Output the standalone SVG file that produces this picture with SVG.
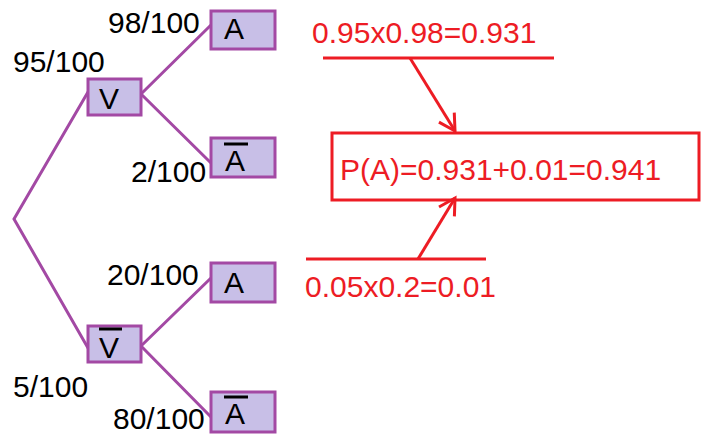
<svg xmlns="http://www.w3.org/2000/svg" width="703" height="434" viewBox="0 0 703 434">
  <style>
    .branch { stroke: #a349a4; stroke-width: 3; fill: none; stroke-linecap: round; }
    .node rect { fill: #c8bfe7; stroke: #a349a4; stroke-width: 3; }
    .lbl { font-family: "Liberation Sans", Arial, sans-serif; font-size: 30px; fill: #000; }
    .bar { stroke: #000; stroke-width: 3; }
    .red { font-family: "Liberation Sans", Arial, sans-serif; font-size: 30px; fill: #ed1c24; }
    .redline { stroke: #ed1c24; stroke-width: 3; fill: none; }
  </style>
  <defs>
    <marker id="openArrow" markerUnits="userSpaceOnUse" markerWidth="40" markerHeight="40" viewBox="-20 -20 40 40" refX="0" refY="0" orient="auto">
      <path d="M-16,-9 L0,0 L-16,9" fill="none" stroke="#ed1c24" stroke-width="3"/>
    </marker>
  </defs>
  <rect width="703" height="434" fill="#fff"/>

  <!-- tree branches -->
  <g id="connectors">
    <path class="branch" d="M88,92 L14,219 L88,348"/>
    <path class="branch" d="M141,94 L211,25"/>
    <path class="branch" d="M141,94 L211,163"/>
    <path class="branch" d="M141,346 L211,278"/>
    <path class="branch" d="M141,346 L211,417"/>
  </g>

  <!-- probability labels -->
  <g id="labels">
    <text class="lbl" x="108" y="33">98/100</text>
    <text class="lbl" x="13" y="72">95/100</text>
    <text class="lbl" x="131" y="182">2/100</text>
    <text class="lbl" x="107" y="285">20/100</text>
    <text class="lbl" x="13" y="397">5/100</text>
    <text class="lbl" x="113" y="429">80/100</text>
  </g>

  <!-- tree nodes -->
  <g id="node-V" class="node">
    <rect x="88" y="79" width="53" height="36"/>
    <text class="lbl" x="99" y="109">V</text>
  </g>
  <g id="node-Vbar" class="node">
    <rect x="88" y="326" width="53" height="36"/>
    <line class="bar" x1="99" y1="329" x2="122" y2="329"/>
    <text class="lbl" x="99" y="358">V</text>
  </g>
  <g id="node-A1" class="node">
    <rect x="211" y="11" width="64" height="38"/>
    <text class="lbl" x="224" y="39">A</text>
  </g>
  <g id="node-Abar1" class="node">
    <rect x="211" y="138" width="64" height="39"/>
    <line class="bar" x1="224" y1="144" x2="248" y2="144"/>
    <text class="lbl" x="225" y="171">A</text>
  </g>
  <g id="node-A2" class="node">
    <rect x="211" y="263" width="64" height="39"/>
    <text class="lbl" x="224" y="293">A</text>
  </g>
  <g id="node-Abar2" class="node">
    <rect x="211" y="392" width="64" height="40"/>
    <line class="bar" x1="224" y1="397" x2="248" y2="397"/>
    <text class="lbl" x="225" y="424">A</text>
  </g>

  <!-- computation of P(A) -->
  <g id="calc-top">
    <text class="red" x="312" y="43">0.95x0.98=0.931</text>
    <line class="redline" x1="323" y1="58" x2="554" y2="58"/>
  </g>
  <g id="calc-result">
    <rect class="redline" x="332" y="133" width="367" height="67"/>
    <text class="red" x="340" y="180">P(A)=0.931+0.01=0.941</text>
  </g>
  <g id="calc-bottom">
    <line class="redline" x1="306" y1="259" x2="486" y2="259"/>
    <text class="red" x="305" y="297">0.05x0.2=0.01</text>
  </g>
  <g id="calc-arrows">
    <line class="redline" x1="410" y1="58" x2="455" y2="131" marker-end="url(#openArrow)"/>
    <line class="redline" x1="418" y1="259" x2="455" y2="198" marker-end="url(#openArrow)"/>
  </g>
</svg>
